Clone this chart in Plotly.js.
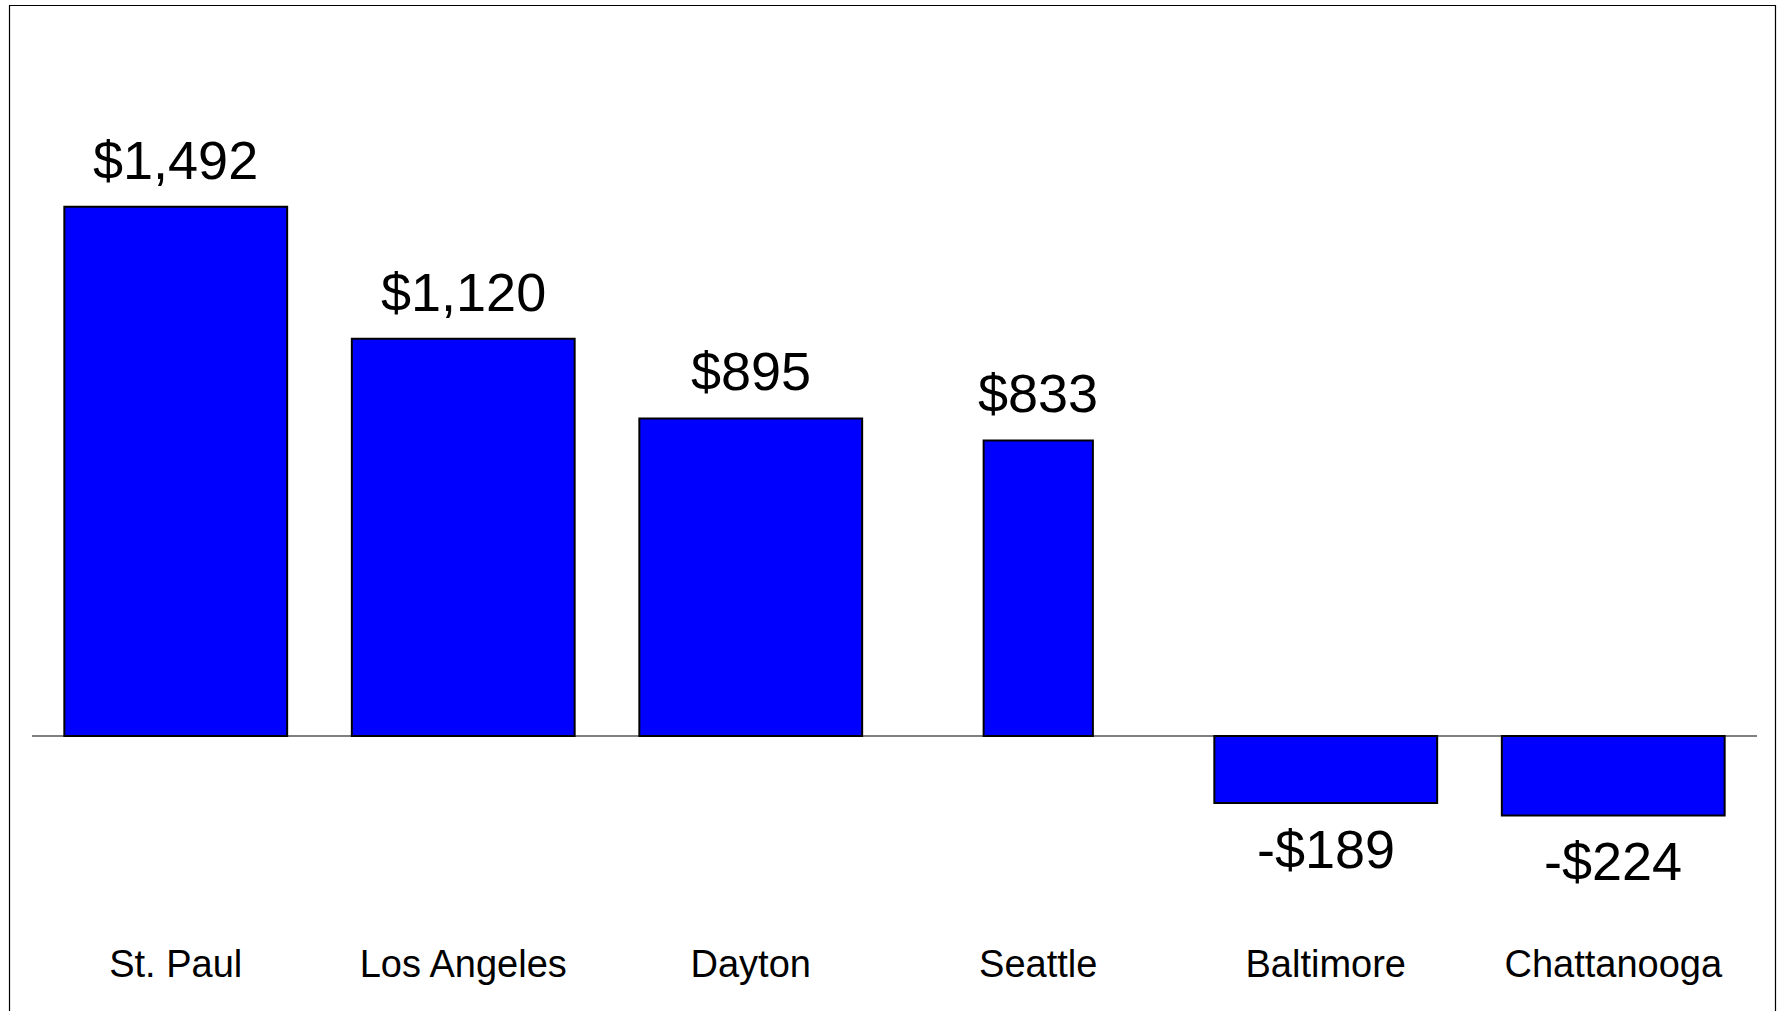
<!DOCTYPE html>
<html>
<head>
<meta charset="utf-8">
<script src="https://cdn.plot.ly/plotly-3.0.1.min.js"></script>
<style>
  html, body { margin: 0; padding: 0; background: #ffffff; }
  #chart { width: 1780px; height: 1011px; }
</style>
</head>
<body>
<div id="chart"></div>
<script>
var cities = ["St. Paul", "Los Angeles", "Dayton", "Seattle", "Baltimore", "Chattanooga"];
var values = [1492, 1120, 895, 833, -189, -224];
var valueLabels = ["$1,492", "$1,120", "$895", "$833", "-$189", "-$224"];
var barWidths = [0.775, 0.775, 0.775, 0.38, 0.775, 0.775];

var W = 1780, H = 1011;
var m = {l: 32, r: 22.5, t: 20, b: 80};
var pw = W - m.l - m.r, ph = H - m.t - m.b;

var trace = {
  type: "bar",
  x: cities,
  y: values,
  width: barWidths,
  marker: {color: "#0000FF", line: {color: "#000000", width: 2}},
  hoverinfo: "none"
};

var annotations = cities.map(function (c, i) {
  var pos = values[i] >= 0;
  return {
    x: c, y: values[i], xref: "x", yref: "y",
    text: valueLabels[i], showarrow: false,
    xanchor: "center", yanchor: "middle",
    yshift: pos ? 47 : -46,
    font: {family: "Liberation Sans, Arial, sans-serif", size: 54, color: "#000000"}
  };
});

var frame = {
  type: "rect", xref: "paper", yref: "paper", layer: "above",
  x0: (9.5 - m.l) / pw, x1: (1776 - m.l) / pw,
  y0: (m.t + ph - (H + 10)) / ph, y1: (m.t + ph - 5.5) / ph,
  line: {color: "#000000", width: 1.2}, fillcolor: "rgba(0,0,0,0)"
};

var layout = {
  width: W, height: H,
  margin: m,
  paper_bgcolor: "#ffffff", plot_bgcolor: "#ffffff",
  showlegend: false,
  font: {family: "Liberation Sans, Arial, sans-serif", color: "#000000"},
  xaxis: {
    type: "category", range: [-0.5, 5.5],
    showgrid: false, showline: false, zeroline: false, ticks: "",
    tickfont: {size: 38, color: "#000000"},
    ticklabelstandoff: 7
  },
  yaxis: {
    range: [-549.7, 2018.3],
    showgrid: false, showline: false, showticklabels: false, ticks: "",
    zeroline: true, zerolinecolor: "#808080", zerolinewidth: 1.2
  },
  annotations: annotations,
  shapes: [frame]
};

Plotly.newPlot("chart", [trace], layout, {staticPlot: true, displayModeBar: false});
</script>
</body>
</html>
